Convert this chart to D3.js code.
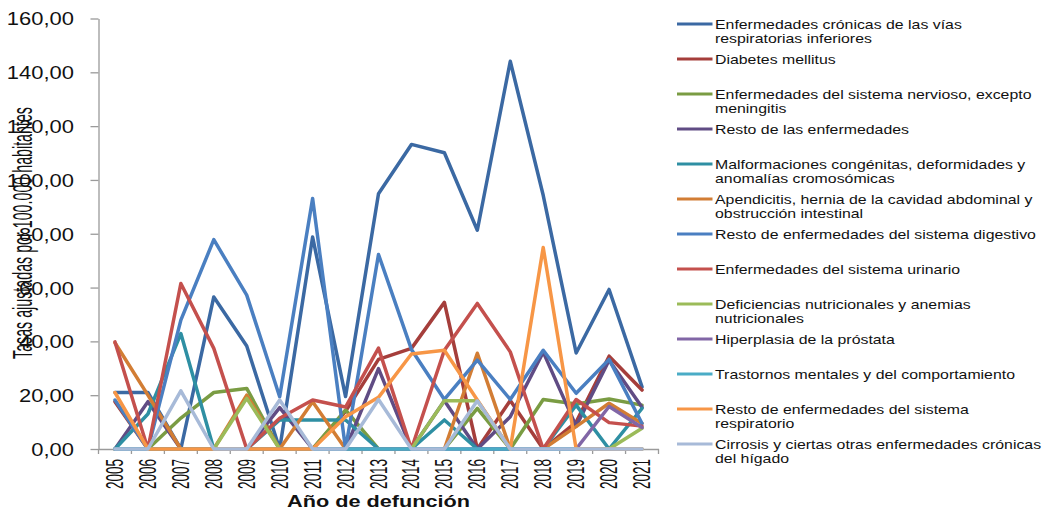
<!DOCTYPE html>
<html>
<head>
<meta charset="utf-8">
<script src="https://cdn.jsdelivr.net/npm/d3@7"></script>
<style>
  body { margin: 0; background: #fff; }
  svg { display: block; font-family: "Liberation Sans", Arial, sans-serif; }
</style>
</head>
<body>
<svg id="chart" width="1055" height="510"></svg>
<script>
// Años de defunción
const years = ["2005","2006","2007","2008","2009","2010","2011","2012","2013",
               "2014","2015","2016","2017","2018","2019","2020","2021"];

// Causas de muerte (saltos de línea como aparecen en la leyenda)
const seriesNames = [
  "Enfermedades crónicas de las vías\nrespiratorias inferiores",
  "Diabetes mellitus",
  "Enfermedades del sistema nervioso, excepto\nmeningitis",
  "Resto de las enfermedades",
  "Malformaciones congénitas, deformidades y\nanomalías cromosómicas",
  "Apendicitis, hernia de la cavidad abdominal y\nobstrucción intestinal",
  "Resto de enfermedades del sistema digestivo",
  "Enfermedades del sistema urinario",
  "Deficiencias nutricionales y anemias\nnutricionales",
  "Hiperplasia de la próstata",
  "Trastornos mentales y del comportamiento",
  "Resto de enfermedades del sistema\nrespiratorio",
  "Cirrosis y ciertas otras enfermedades crónicas\ndel hígado"
];

const seriesColors = ["#3B69A3","#A53E3B","#7A9C43","#604C84","#2E8FA3","#D27D34",
                      "#4A7FC1","#C4504D","#9BBB59","#8166A6","#4AACC6","#F79646","#A7BAD8"];

// Tasas ajustadas por 100.000 habitantes
const cronicasRespiratorias = [21.0, 21.0, 0, 56.5, 38.3, 0, 78.8, 19.5, 94.9, 113.2, 110.1, 81.3, 144.1, 94.3, 35.7, 59.3, 23.1];
const diabetes              = [17.6, 0, 0, 0, 0, 0, 0, 14.0, 33.3, 37.4, 54.5, 0, 18.0, 0, 10.0, 34.5, 21.9];
const sistemaNervioso       = [0, 0, 11.5, 21.0, 22.5, 0, 0, 14.5, 0, 0, 0, 15.1, 0, 18.4, 16.7, 18.6, 16.3];
const restoEnfermedades     = [0, 17.6, 0, 0, 0, 15.4, 0, 0, 29.9, 0, 17.9, 0, 12.0, 36.0, 8.5, 33.0, 15.5];
const malformaciones        = [0, 13.0, 42.9, 0, 0, 10.8, 10.8, 10.8, 0, 0, 10.8, 0, 0, 0, 16.3, 0, 15.1];
const apendicitis           = [39.5, 20.0, 0, 0, 20.0, 0, 17.6, 0, 0, 0, 0, 35.6, 0, 0, 8.3, 17.0, 9.5];
const digestivo             = [18.2, 0, 47.9, 77.8, 57.2, 19.4, 93.1, 0, 72.3, 37.0, 18.4, 33.0, 18.4, 36.7, 20.7, 33.3, 9.5];
const urinario              = [39.8, 0, 61.5, 37.4, 0, 11.4, 18.2, 15.6, 37.5, 0, 36.7, 54.1, 36.1, 0, 18.4, 9.8, 8.5];
const deficiencias          = [0, 0, 0, 0, 18.8, 0, 0, 0, 0, 0, 17.9, 17.9, 0, 0, 0, 0, 7.7];
const hiperplasia           = [0, 0, 0, 0, 0, 0, 0, 0, 0, 0, 0, 0, 0, 0, 0, 15.8, 8.0];
const trastornosMentales    = [0, 0, 0, 0, 0, 0, 0, 0, 0, 0, 0, 0, 0, 0, 0, 0, 0];
const restoRespiratorio     = [21.0, 0, 0, 0, 0, 0, 0, 12.0, 19.2, 35.3, 36.7, 18.2, 0, 74.9, 0, 0, 0];
const cirrosis              = [0, 0, 21.6, 0, 0, 18.2, 0, 0, 18.4, 0, 0, 17.9, 0, 0, 0, 0, 0];

const yTicks = [0, 20, 40, 60, 80, 100, 120, 140, 160];

const seriesValues = [cronicasRespiratorias, diabetes, sistemaNervioso, restoEnfermedades,
  malformaciones, apendicitis, digestivo, urinario, deficiencias, hiperplasia,
  trastornosMentales, restoRespiratorio, cirrosis];

const series = seriesNames.map((name, i) => ({
  name, color: seriesColors[i],
  values: seriesValues[i].map((v, j) => ({ year: years[j], value: v }))
}));

const svg = d3.select("#chart");
const axisColor = "#9A9A9A";
const textColor = "#111";

const x = d3.scaleBand().domain(years).range([98.5, 658.5]);
const y = d3.scaleLinear().domain([0, 160]).range([449, 18.5]);
const cx = d => x(d) + x.bandwidth() / 2;

// Eje Y
const yAxis = svg.append("g")
  .attr("transform", "translate(98.5,0)")
  .call(d3.axisLeft(y).tickValues(yTicks).tickSize(8).tickSizeOuter(0)
    .tickFormat(d => d.toFixed(2).replace(".", ",")));
yAxis.select(".domain").attr("stroke", axisColor).attr("stroke-width", 1.3);
yAxis.selectAll(".tick line").attr("stroke", axisColor).attr("stroke-width", 1.3);
yAxis.selectAll(".tick text")
  .attr("x", 0).attr("dy", "0.36em")
  .attr("transform", "translate(-24.5,0) scale(1.22,1)")
  .attr("text-anchor", "end")
  .attr("font-size", 18)
  .attr("font-family", "'Liberation Sans', Arial, sans-serif")
  .attr("fill", textColor);

// Eje X
const xAxis = svg.append("g")
  .attr("transform", "translate(0,449)")
  .call(d3.axisBottom(x).tickSize(0).tickSizeOuter(0));
xAxis.select(".domain").attr("stroke", axisColor).attr("stroke-width", 1.3);
xAxis.selectAll(".tick text")
  .attr("x", 0).attr("y", 0).attr("dy", 0)
  .attr("transform", "translate(8,10) rotate(-90)")
  .attr("text-anchor", "end")
  .attr("font-size", 23)
  .attr("textLength", 30)
  .attr("lengthAdjust", "spacingAndGlyphs")
  .attr("font-family", "'Liberation Sans', Arial, sans-serif")
  .attr("fill", textColor);

// Marcas entre categorías
const boundaries = years.map(d => x(d)).concat([x.range()[1]]);
xAxis.selectAll(".band-tick").data(boundaries).join("line")
  .attr("class", "band-tick")
  .attr("x1", d => d).attr("x2", d => d)
  .attr("y1", 0).attr("y2", 5)
  .attr("stroke", axisColor).attr("stroke-width", 1.3);

// Líneas de las series
const line = d3.line().x(d => cx(d.year)).y(d => y(d.value));
svg.append("g").selectAll("path").data(series).join("path")
  .attr("d", d => line(d.values))
  .attr("fill", "none")
  .attr("stroke", d => d.color)
  .attr("stroke-width", 3.5)
  .attr("stroke-linejoin", "round")
  .attr("stroke-linecap", "round");

// Títulos de los ejes
svg.append("text")
  .attr("transform", "translate(31.5,233) rotate(-90)")
  .attr("text-anchor", "middle")
  .attr("font-size", 28)
  .attr("textLength", 252)
  .attr("lengthAdjust", "spacingAndGlyphs")
  .attr("fill", textColor)
  .text("Tasas ajustadas por 100.000 habitantes");

svg.append("text")
  .attr("x", 378.5).attr("y", 507)
  .attr("text-anchor", "middle")
  .attr("font-size", 17)
  .attr("font-weight", "bold")
  .attr("textLength", 183)
  .attr("lengthAdjust", "spacingAndGlyphs")
  .attr("fill", textColor)
  .text("Año de defunción");

// Leyenda
const legend = svg.append("g").selectAll("g").data(series).join("g")
  .attr("transform", (d, i) => `translate(0,${24 + 35 * i})`);
legend.append("line")
  .attr("x1", 677).attr("x2", 712.5).attr("y1", 0).attr("y2", 0)
  .attr("stroke", d => d.color).attr("stroke-width", 3);
legend.append("text")
  .attr("transform", "translate(715,4.6) scale(1.22,1)")
  .attr("font-size", 13)
  .attr("fill", textColor)
  .each(function (d) {
    const t = d3.select(this);
    d.name.split("\n").forEach((part, k) => {
      t.append("tspan").attr("x", 0).attr("dy", k === 0 ? 0 : 14).text(part);
    });
  });
</script>
</body>
</html>
